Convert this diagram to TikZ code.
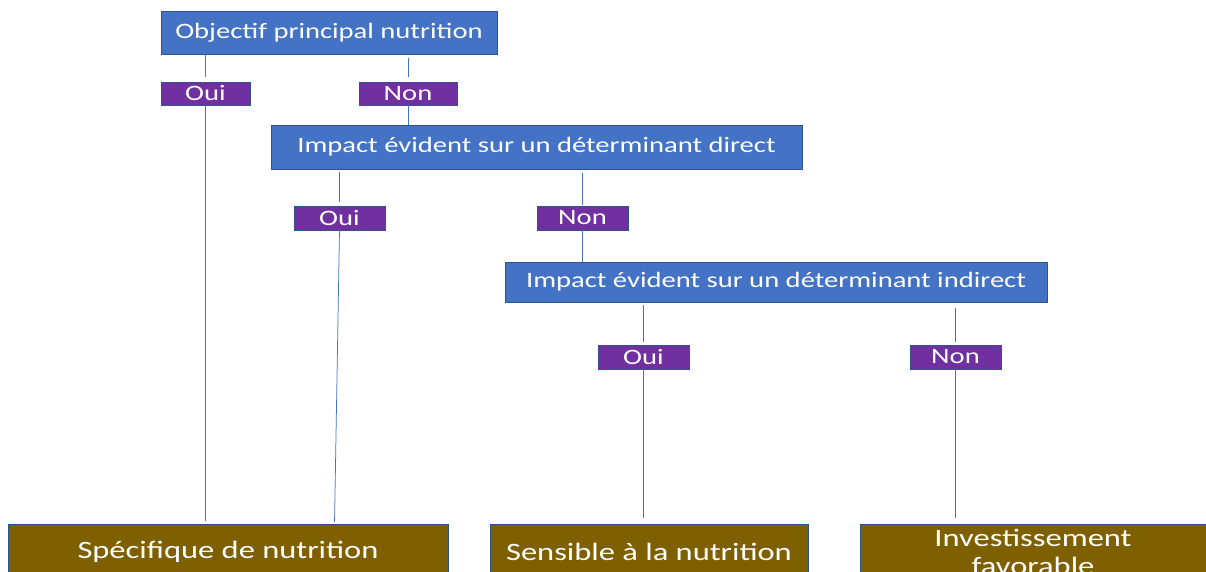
\documentclass[tikz,border=0pt]{standalone}
\usepackage{fontspec}
\newfontfamily\diagfont[FakeStretch=1.3]{Carlito}
\usetikzlibrary{positioning}

\definecolor{boxblue}{HTML}{4472C4}
\definecolor{edgeblue}{HTML}{2F528F}
\definecolor{answerpurple}{HTML}{7030A0}
\definecolor{resultbrown}{HTML}{7F6000}

\begin{document}
\begin{tikzpicture}[
            x = 1pt, y = -1pt, % pixel-like units
            font = \diagfont,
            link/.style = {draw = boxblue, line width = 0.75pt} % connector style
        ]

        \tikzstyle{question}=[
            rectangle,
            draw = edgeblue,
            fill = boxblue,
            text = white,
            inner sep = 0pt,
            font = \diagfont\fontsize{22}{26}\selectfont
        ]
        \tikzstyle{answer}=[
            rectangle,
            draw = edgeblue,
            fill = answerpurple,
            text = white,
            inner sep = 0pt,
            minimum width = 91pt,
            minimum height = 24pt,
            font = \diagfont\fontsize{22}{26}\selectfont
        ]
        \tikzstyle{result}=[
            rectangle,
            draw = edgeblue,
            fill = resultbrown,
            text = white,
            inner sep = 0pt,
            align = center,
            minimum height = 56pt,
            font = \diagfont\fontsize{25}{28}\selectfont
        ]

        \useasboundingbox (0,0) rectangle (1206,572);

        \node[question, minimum width=336pt, minimum height=43pt] (obj) at (329,32.5) {Objectif principal nutrition};
        \node[answer, minimum width=89pt, minimum height=23pt] (oui1) at (205.5,93.5) {Oui};
        \node[answer, minimum width=98pt, minimum height=23pt] (non1) at (408,93.5) {Non};

        \node[question, minimum width=531pt, minimum height=44pt] (direct) at (536.5,147) {Impact évident sur un déterminant direct};
        \node[answer] (oui2) at (339.5,218) {Oui};
        \node[answer] (non2) at (582.5,218) {Non};

        \node[question, minimum width=542pt, minimum height=40pt] (indirect) at (776,282) {Impact évident sur un déterminant indirect};
        \node[answer] (oui3) at (643.5,357) {Oui};
        \node[answer] (non3) at (955.5,357) {Non};

        \node[result, minimum width=440pt] (spec) at (228,552) {Spécifique de nutrition};
        \node[result, minimum width=318pt] (sens) at (649,552) {Sensible à la nutrition};
        \node[result, minimum width=346pt] (invest) at (1033,552) {Investissement\\favorable};

        \draw[link, shorten >=5pt] (obj.south -| oui1.north) -- (oui1.north);
        \draw[link, shorten <=4pt, shorten >=5pt] (obj.south -| non1.north) -- (non1.north);
        \draw[link] (non1.south) -- (direct.north -| non1.south);
        \draw[link, shorten >=3pt] (oui1.south) -- (spec.north -| oui1.south);

        \draw[link, shorten <=3pt, shorten >=4pt] (direct.south -| oui2.north) -- (oui2.north);
        \draw[link, shorten <=4pt, shorten >=1pt] (direct.south -| non2.north) -- (non2.north);
        \draw[link] (non2.south) -- (indirect.north -| non2.south);
        \draw[link, shorten >=2pt] (oui2.south) -- ([xshift=-5pt]spec.north -| oui2.south);

        \draw[link, shorten <=3pt, shorten >=3pt] (indirect.south -| oui3.north) -- (oui3.north);
        \draw[link, shorten <=6pt, shorten >=3pt] (indirect.south -| non3.north) -- (non3.north);
        \draw[link, shorten >=6pt] (oui3.south) -- (sens.north -| oui3.south);
        \draw[link, shorten >=6pt] (non3.south) -- (invest.north -| non3.south);

    \end{tikzpicture}
\end{document}
